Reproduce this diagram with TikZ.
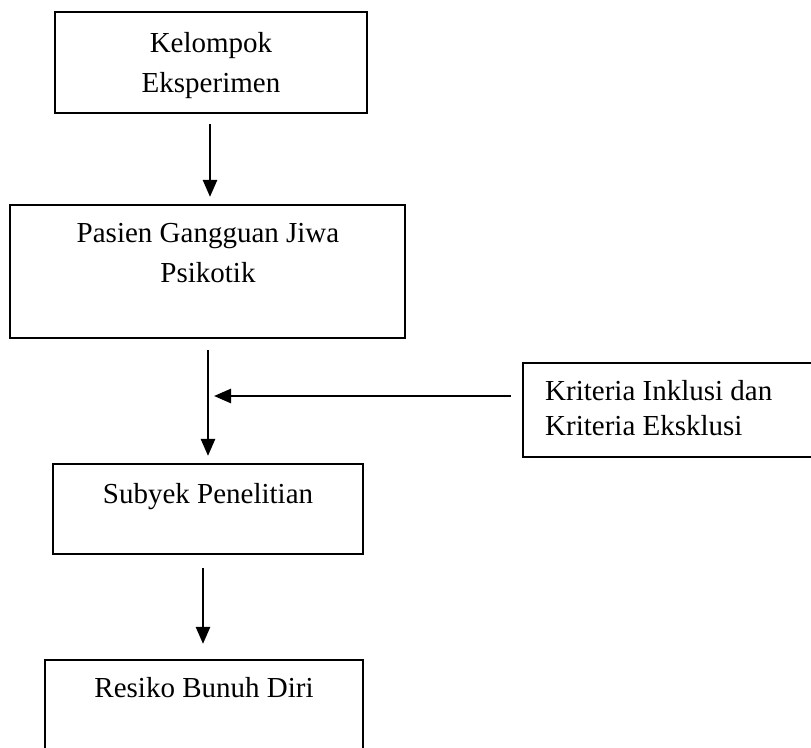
\documentclass[tikz,border=0pt]{standalone}
\usepackage{fontspec}
\setmainfont{Liberation Serif}
\usetikzlibrary{arrows.meta}
\begin{document}
\begin{tikzpicture}[x=1pt,y=-1pt,
  box/.style={draw=black,line width=2.2pt,inner sep=0pt,minimum width=#1},
  lbl/.style={inner sep=0pt,font=\fontsize{29}{40}\selectfont,align=center,anchor=north},
  arr/.style={line width=2.6pt,-{Triangle[length=17pt,width=14pt]}}]
\clip (0,0) rectangle (811,747);
\fill[white] (0,0) rectangle (811,747);
% boxes
\node[box=312pt,minimum height=101pt] (top) at (211,62.5) {};
\node[box=395pt,minimum height=133pt] (pasien) at (207.5,271.5) {};
\node[box=314pt,minimum height=94pt] (krit) at (680,410) {};
\node[box=310pt,minimum height=90pt] (subyek) at (208,509) {};
\node[box=318pt,minimum height=120pt] (resiko) at (204,720) {};
% texts
\node[lbl] (ttop) at (211,32) {Kelompok\\Eksperimen};
\node[lbl] (tpasien) at (208,223) {Pasien Gangguan Jiwa\\Psikotik};
\node[lbl,font=\fontsize{29}{35}\selectfont,align=left,anchor=north west] (tkrit) at (545,380) {Kriteria Inklusi dan\\Kriteria Eksklusi};
\node[lbl] (tsubyek) at (208,483) {Subyek Penelitian};
\node[lbl] (tresiko) at (204,677) {Resiko Bunuh Diri};
% connectors
\coordinate (join) at (214,396);
\draw[arr] ([xshift=-1pt,yshift=-10pt]top.south) -- ([xshift=2.5pt,yshift=7pt]pasien.north);
\draw[arr] ([xshift=0.5pt,yshift=-11pt]pasien.south) -- ([yshift=7pt]subyek.north);
\draw[arr] ([xshift=-11pt,yshift=14pt]krit.west) -- (join);
\draw[arr] ([xshift=-5pt,yshift=-13pt]subyek.south) -- ([xshift=-1pt,yshift=15pt]resiko.north);
\end{tikzpicture}
\end{document}
